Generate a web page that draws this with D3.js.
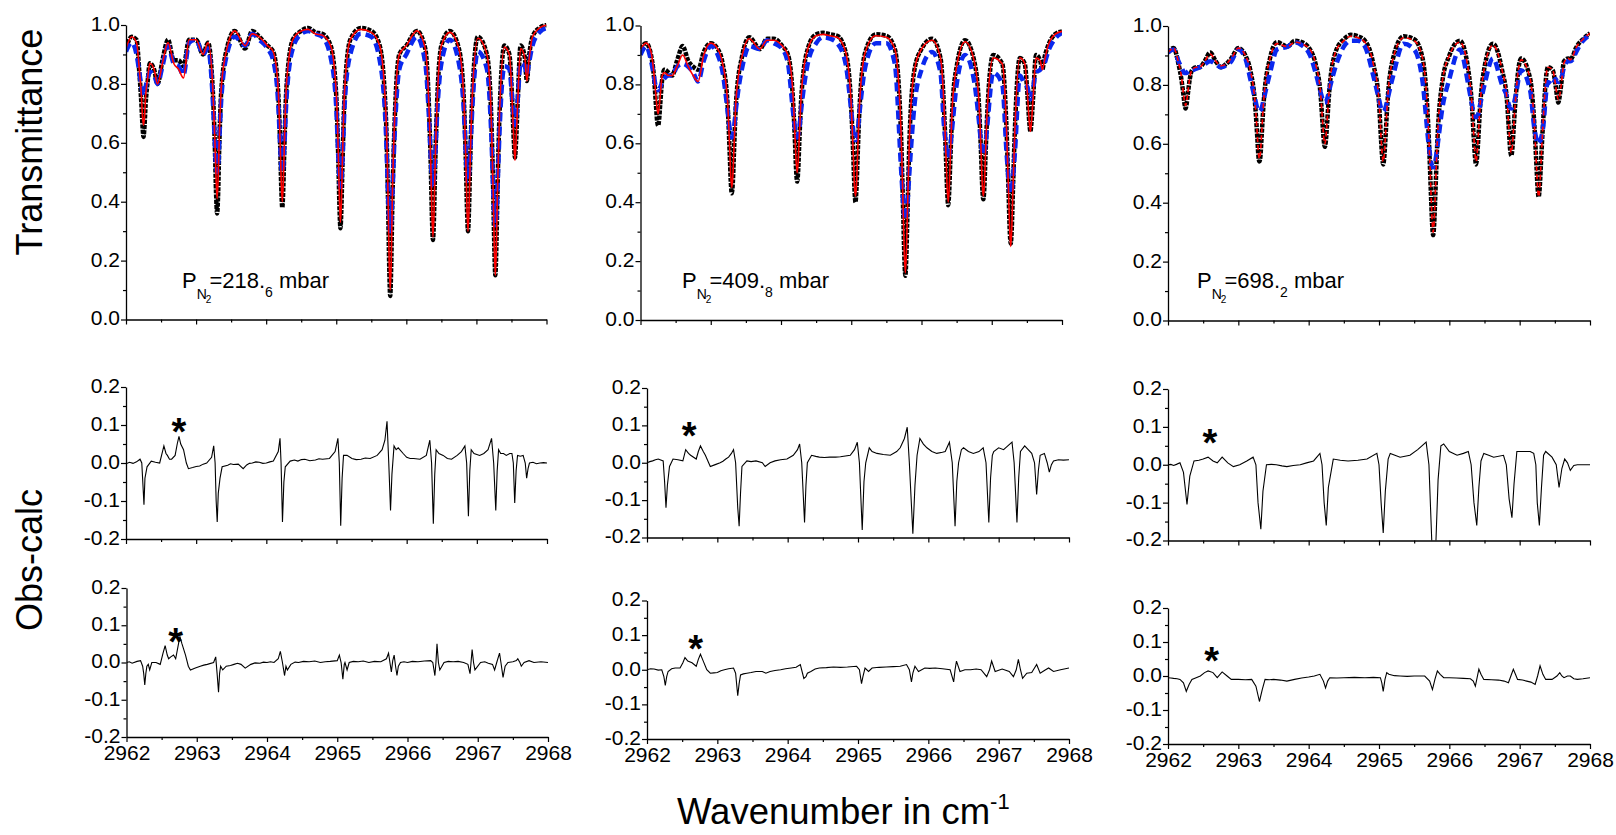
<!DOCTYPE html>
<html>
<head>
<meta charset="utf-8">
<script src="https://cdn.jsdelivr.net/npm/d3@7"></script>
<style>
  body { margin: 0; background: #fff; }
  svg { font-family: "Liberation Sans", Arial, sans-serif; }
  .axis path, .axis line { stroke: #000; }
  .axis path { stroke-width: 1.3; }
  .axis line { stroke-width: 1.2; }
  .axis text { font-size: 21px; fill: #000; }
</style>
</head>
<body>
<svg id="paper" width="1616" height="835"></svg>
<script>
// wavenumber grid shared by the transmittance traces (cm-1)
const wn = [
  2962.00, 2962.08, 2962.15, 2962.19, 2962.22, 2962.235, 2962.25, 2962.265, 2962.28, 2962.31, 2962.34,
  2962.40, 2962.45, 2962.52, 2962.60, 2962.68, 2962.75, 2962.82, 2962.90, 2963.00, 2963.10, 2963.17,
  2963.24, 2963.27, 2963.285, 2963.30, 2963.315, 2963.33, 2963.36, 2963.45, 2963.55, 2963.70, 2963.80,
  2963.90, 2964.02, 2964.10,
  2964.17, 2964.20, 2964.215, 2964.23, 2964.245, 2964.26, 2964.29, 2964.38, 2964.50, 2964.60, 2964.70,
  2964.80, 2964.92,
  2965.00, 2965.03, 2965.045, 2965.06, 2965.075, 2965.09, 2965.12, 2965.20, 2965.35, 2965.50, 2965.62,
  2965.71, 2965.74, 2965.755, 2965.77, 2965.785, 2965.80, 2965.83, 2965.90, 2966.00, 2966.15, 2966.27,
  2966.32, 2966.35, 2966.365, 2966.38, 2966.395, 2966.41, 2966.44, 2966.50, 2966.62, 2966.75,
  2966.82, 2966.85, 2966.865, 2966.88, 2966.895, 2966.91, 2966.94, 2967.02, 2967.15,
  2967.21, 2967.24, 2967.255, 2967.27, 2967.285, 2967.30, 2967.33, 2967.40, 2967.47,
  2967.51, 2967.535, 2967.55, 2967.565, 2967.59, 2967.63,
  2967.69, 2967.72, 2967.75, 2967.80, 2967.90, 2968.00
];

// P(N2) = 218.6 mbar
const trans218Obs = [
  .92, .96, .95, .84, .73, .66, .62, .66, .73, .81, .87, .85, .80, .88, .95, .88, .88, .86, .95, .95, .90, .94,
  .77, .57, .43, .36, .43, .58, .78, .93, .98, .92, .98, .96, .93, .91,
  .78, .59, .45, .38, .45, .59, .79, .95, .98, .99, .975, .97, .93,
  .76, .54, .39, .31, .39, .54, .77, .95, .99, .98, .93,
  .68, .39, .19, .08, .19, .39, .65, .90, .93, .98, .92,
  .74, .51, .35, .27, .35, .51, .74, .93, .98, .92,
  .75, .53, .38, .30, .38, .53, .75, .96, .90,
  .70, .43, .25, .15, .25, .43, .70, .93, .90,
  .745, .60, .55, .60, .745, .93,
  .89, .81, .89, .96, .99, 1.0
];
const trans218Fit = [
  .92, .96, .94, .85, .76, .69, .66, .69, .76, .82, .87, .85, .80, .87, .94, .87, .85, .82, .95, .95, .90, .94,
  .78, .60, .48, .41, .48, .61, .79, .93, .98, .93, .97, .96, .93, .91,
  .79, .60, .47, .40, .47, .60, .80, .95, .98, .985, .97, .965, .93,
  .77, .56, .41, .33, .41, .56, .78, .95, .985, .975, .93,
  .69, .41, .20, .10, .20, .41, .66, .90, .93, .98, .92,
  .74, .52, .36, .28, .36, .52, .74, .93, .975, .92,
  .75, .53, .38, .30, .38, .53, .75, .955, .90,
  .70, .43, .25, .15, .25, .43, .70, .925, .90,
  .74, .60, .54, .60, .74, .92,
  .89, .81, .88, .96, .99, 1.0
];
const trans218Alt = [
  .91, .94, .90, .84, .79, .77, .76, .77, .79, .82, .84, .83, .80, .86, .93, .87, .86, .83, .94, .95, .90, .92,
  .74, .59, .52, .50, .52, .60, .75, .91, .96, .93, .97, .95, .92, .88,
  .74, .59, .52, .50, .52, .59, .75, .92, .97, .98, .97, .96, .89,
  .72, .55, .48, .45, .48, .55, .73, .90, .97, .96, .88,
  .63, .42, .34, .30, .34, .42, .61, .85, .90, .96, .87,
  .70, .545, .48, .45, .48, .545, .70, .87, .95, .87,
  .71, .56, .50, .47, .50, .56, .71, .91, .85,
  .64, .44, .35, .32, .35, .44, .64, .86, .85,
  .75, .68, .66, .68, .75, .87,
  .86, .83, .87, .93, .975, .99
];

// P(N2) = 409.8 mbar
const trans409Obs = [
  .92, .94, .90, .83, .73, .68, .66, .68, .73, .82, .85, .84, .83, .88, .93, .88, .86, .85, .91, .94, .92, .87,
  .73, .565, .47, .43, .47, .565, .74, .90, .96, .92, .955, .955, .93, .90,
  .75, .60, .51, .47, .51, .60, .76, .92, .97, .975, .97, .965, .91,
  .72, .55, .45, .40, .45, .55, .73, .91, .97, .965, .92,
  .62, .36, .22, .15, .22, .36, .62, .85, .92, .955, .89,
  .72, .54, .44, .39, .44, .54, .72, .86, .95, .88,
  .72, .55, .45, .41, .45, .55, .72, .90, .87,
  .65, .43, .31, .26, .31, .43, .65, .89, .87,
  .76, .67, .64, .67, .76, .90,
  .88, .85, .89, .93, .97, .98
];
const trans409Fit = [
  .92, .94, .91, .84, .76, .72, .70, .72, .76, .83, .84, .83, .83, .86, .90, .86, .83, .81, .90, .94, .92, .87,
  .74, .58, .49, .45, .49, .58, .75, .90, .955, .92, .95, .95, .93, .90,
  .77, .62, .54, .50, .54, .62, .77, .92, .965, .97, .965, .96, .91,
  .73, .56, .46, .42, .46, .56, .74, .91, .965, .96, .92,
  .63, .37, .23, .16, .23, .37, .63, .85, .92, .95, .89,
  .73, .55, .45, .40, .45, .55, .73, .86, .945, .88,
  .73, .56, .46, .42, .46, .56, .73, .89, .87,
  .65, .43, .31, .25, .31, .43, .65, .89, .87,
  .76, .67, .64, .67, .76, .89,
  .88, .85, .88, .93, .97, .98
];
const trans409Alt = [
  .90, .93, .88, .83, .79, .785, .78, .785, .79, .81, .82, .83, .83, .86, .87, .86, .84, .81, .88, .93, .90, .84,
  .71, .65, .63, .62, .63, .65, .72, .86, .93, .92, .95, .94, .92, .87,
  .71, .65, .63, .62, .63, .65, .72, .87, .94, .96, .955, .94, .87,
  .71, .64, .62, .61, .62, .64, .71, .86, .94, .94, .87,
  .51, .395, .355, .34, .355, .395, .51, .73, .85, .91, .84,
  .66, .59, .56, .55, .56, .59, .66, .80, .90, .81,
  .67, .595, .57, .56, .57, .595, .67, .84, .80,
  .57, .475, .44, .43, .44, .475, .57, .83, .80,
  .79, .76, .75, .76, .79, .84,
  .85, .86, .87, .91, .955, .975
];

// P(N2) = 698.2 mbar
const trans698Obs = [
  .91, .925, .87, .82, .765, .735, .72, .735, .765, .82, .85, .86, .86, .88, .91, .88, .86, .87, .89, .925, .90, .85,
  .73, .62, .56, .54, .56, .62, .74, .89, .945, .93, .95, .945, .92, .87,
  .765, .66, .61, .59, .61, .66, .77, .91, .955, .97, .965, .95, .87,
  .74, .61, .555, .53, .555, .61, .74, .89, .965, .955, .89,
  .61, .42, .33, .29, .33, .42, .61, .81, .90, .95, .85,
  .735, .61, .555, .53, .555, .61, .735, .86, .94, .85,
  .745, .635, .58, .56, .58, .635, .745, .89, .82,
  .66, .52, .45, .42, .45, .52, .66, .86, .85,
  .80, .755, .74, .755, .80, .88,
  .89, .885, .895, .925, .955, .975
];
const trans698Fit = [
  .91, .925, .875, .83, .77, .745, .73, .745, .77, .825, .85, .86, .86, .88, .905, .88, .865, .87, .89, .925, .90, .85,
  .735, .63, .57, .55, .57, .63, .745, .89, .94, .93, .945, .94, .92, .87,
  .77, .67, .62, .60, .62, .67, .775, .91, .95, .965, .96, .945, .87,
  .745, .62, .565, .54, .565, .62, .745, .89, .96, .95, .89,
  .615, .43, .34, .30, .34, .43, .615, .81, .90, .945, .85,
  .74, .62, .565, .54, .565, .62, .74, .86, .935, .85,
  .75, .64, .59, .57, .59, .64, .75, .885, .82,
  .66, .52, .45, .42, .45, .52, .66, .86, .85,
  .80, .76, .75, .76, .80, .875,
  .89, .885, .895, .925, .955, .975
];
const trans698Alt = [
  .91, .92, .88, .86, .845, .84, .84, .84, .845, .85, .85, .855, .86, .87, .88, .87, .86, .865, .88, .92, .89, .82,
  .75, .72, .713, .71, .713, .72, .75, .84, .92, .93, .945, .935, .90, .84,
  .775, .75, .743, .74, .743, .75, .78, .86, .93, .95, .95, .93, .83,
  .75, .72, .713, .71, .713, .72, .75, .83, .94, .92, .81,
  .59, .54, .525, .52, .525, .54, .59, .72, .82, .92, .80,
  .735, .70, .693, .69, .693, .70, .735, .80, .89, .80,
  .76, .73, .723, .72, .723, .73, .76, .85, .78,
  .65, .615, .604, .60, .604, .615, .65, .81, .80,
  .82, .812, .81, .812, .82, .86,
  .88, .88, .885, .91, .95, .97
];

// residuals [wavenumber, obs-calc]
const resid218Mid = [
  [2962.00, -0.002], [2962.05, 0.002], [2962.10, -0.001], [2962.15, 0.003], [2962.20, 0.01], [2962.225, 0.0],
  [2962.245, -0.07], [2962.256, -0.11], [2962.27, -0.04], [2962.30, -0.01], [2962.36, 0.005], [2962.42, 0.002],
  [2962.48, 0.0], [2962.52, 0.03], [2962.54, 0.045], [2962.57, 0.025], [2962.59, 0.02], [2962.62, 0.01],
  [2962.65, 0.01], [2962.70, 0.02], [2962.73, 0.05], [2962.755, 0.07], [2962.78, 0.05], [2962.82, 0.035],
  [2962.86, 0.0], [2962.89, -0.015], [2962.95, -0.012], [2963.00, -0.009], [2963.05, -0.008], [2963.10, -0.003],
  [2963.15, 0.0], [2963.22, 0.015],
  [2963.25, 0.045], [2963.27, 0.0], [2963.285, -0.10], [2963.30, -0.155], [2963.315, -0.08], [2963.34, -0.04],
  [2963.37, -0.01], [2963.45, -0.006], [2963.49, -0.002], [2963.53, -0.004], [2963.60, -0.003], [2963.67, -0.015],
  [2963.72, -0.005], [2963.76, -0.001], [2963.80, 0.0], [2963.85, 0.003], [2963.90, 0.002], [2963.95, -0.001],
  [2964.00, 0.0], [2964.05, 0.003], [2964.10, 0.005], [2964.17, 0.03], [2964.195, 0.065],
  [2964.21, 0.0], [2964.23, -0.155], [2964.25, -0.05], [2964.27, -0.01], [2964.34, 0.005], [2964.40, 0.008],
  [2964.45, 0.005], [2964.50, 0.009], [2964.55, 0.01], [2964.62, 0.006], [2964.70, 0.008], [2964.75, 0.011],
  [2964.80, 0.01], [2964.90, 0.012], [2964.98, 0.03], [2965.02, 0.065],
  [2965.04, 0.0], [2965.06, -0.165], [2965.08, -0.04], [2965.10, 0.02], [2965.15, 0.02], [2965.22, 0.012],
  [2965.28, 0.009], [2965.35, 0.01], [2965.41, 0.013], [2965.48, 0.012], [2965.58, 0.02], [2965.65, 0.035],
  [2965.69, 0.06], [2965.72, 0.11],
  [2965.745, 0.0], [2965.77, -0.125], [2965.79, -0.03], [2965.82, 0.045], [2965.85, 0.035], [2965.88, 0.04],
  [2965.95, 0.025], [2966.00, 0.015], [2966.05, 0.012], [2966.10, 0.012], [2966.19, 0.01], [2966.28, 0.02],
  [2966.33, 0.06],
  [2966.355, 0.0], [2966.38, -0.16], [2966.40, -0.03], [2966.42, 0.035], [2966.46, 0.025], [2966.52, 0.02],
  [2966.58, 0.012], [2966.64, 0.01], [2966.72, 0.02], [2966.78, 0.03], [2966.83, 0.045], [2966.855, 0.0],
  [2966.88, -0.14], [2966.90, -0.02], [2966.92, 0.035], [2966.96, 0.025], [2967.04, 0.02], [2967.10, 0.025],
  [2967.16, 0.035], [2967.21, 0.065], [2967.24, 0.0], [2967.27, -0.125], [2967.29, -0.02], [2967.31, 0.035],
  [2967.34, 0.025], [2967.38, 0.025], [2967.42, 0.02], [2967.47, 0.025], [2967.50, 0.025], [2967.52, 0.0],
  [2967.54, -0.105], [2967.56, -0.02], [2967.58, 0.02], [2967.62, 0.018], [2967.66, 0.02], [2967.69, 0.0],
  [2967.71, -0.04], [2967.73, -0.015], [2967.75, 0.0], [2967.80, 0.002], [2967.85, -0.002], [2967.90, 0.0],
  [2967.95, 0.001], [2968.00, 0.0]
];
const resid218Bot = [
  [2962.00, 0.0], [2962.04, 0.002], [2962.08, -0.002], [2962.15, 0.003], [2962.20, 0.005], [2962.23, -0.01],
  [2962.245, -0.03],
  [2962.26, -0.06], [2962.275, -0.03], [2962.29, -0.01], [2962.31, -0.005], [2962.33, -0.02], [2962.36, 0.0],
  [2962.42, 0.0], [2962.48, -0.005], [2962.52, 0.025], [2962.55, 0.045], [2962.58, 0.02], [2962.60, 0.01],
  [2962.63, 0.015], [2962.67, 0.02], [2962.70, 0.01], [2962.73, 0.04], [2962.76, 0.07], [2962.79, 0.05],
  [2962.84, 0.02], [2962.88, -0.01], [2962.91, -0.02], [2962.98, -0.015], [2963.05, -0.01], [2963.10, -0.007],
  [2963.15, -0.005],
  [2963.24, 0.0], [2963.27, 0.015], [2963.29, -0.03], [2963.31, -0.08], [2963.325, -0.03], [2963.34, -0.01],
  [2963.37, -0.02], [2963.42, -0.01], [2963.48, -0.008], [2963.53, -0.005], [2963.58, -0.002], [2963.63, -0.005],
  [2963.69, -0.015], [2963.77, -0.005], [2963.83, -0.001],
  [2963.90, -0.002], [2963.95, 0.001], [2964.00, 0.0], [2964.05, 0.002], [2964.10, 0.0], [2964.16, 0.01],
  [2964.19, 0.03], [2964.22, 0.0],
  [2964.25, -0.035], [2964.27, -0.01], [2964.29, -0.02], [2964.34, -0.005], [2964.40, 0.001], [2964.45, 0.0],
  [2964.52, 0.003], [2964.60, 0.002], [2964.68, 0.004],
  [2964.76, 0.0], [2964.83, 0.002], [2964.90, 0.003], [2965.00, 0.005], [2965.03, 0.02], [2965.055, 0.0],
  [2965.08, -0.045],
  [2965.10, -0.005], [2965.11, 0.0], [2965.14, -0.02], [2965.17, 0.0], [2965.23, 0.003], [2965.30, 0.002],
  [2965.37, 0.004], [2965.45, 0.0], [2965.53, 0.003],
  [2965.62, 0.002], [2965.70, 0.01], [2965.73, 0.025], [2965.75, 0.0], [2965.77, -0.025], [2965.79, 0.005],
  [2965.81, 0.02], [2965.83, -0.01], [2965.85, -0.035], [2965.87, -0.01], [2965.90, 0.0], [2965.95, 0.002],
  [2966.00, 0.0], [2966.07, 0.003],
  [2966.15, 0.002], [2966.24, 0.004], [2966.33, 0.005], [2966.36, 0.0], [2966.39, -0.035], [2966.405, 0.0],
  [2966.42, 0.05],
  [2966.44, 0.0], [2966.46, -0.02], [2966.52, 0.0], [2966.58, 0.003], [2966.65, 0.002], [2966.72, 0.003],
  [2966.80, 0.0], [2966.86, -0.005],
  [2966.89, -0.03], [2966.92, 0.035], [2966.94, 0.0], [2966.96, -0.02], [2967.04, 0.0], [2967.10, 0.002],
  [2967.15, -0.002],
  [2967.21, -0.005], [2967.24, -0.02], [2967.27, 0.0], [2967.31, 0.025], [2967.33, 0.0], [2967.36, -0.04],
  [2967.39, -0.01], [2967.43, 0.0], [2967.50, 0.002], [2967.55, 0.005], [2967.57, 0.01], [2967.60, 0.0],
  [2967.62, -0.01], [2967.66, 0.0], [2967.73, 0.005], [2967.80, 0.0], [2967.90, 0.002], [2968.00, 0.0]
];
const resid409Mid = [
  [2962.00, 0.0], [2962.04, 0.003], [2962.08, 0.005], [2962.12, 0.008], [2962.16, 0.01], [2962.23, 0.005],
  [2962.25, -0.05], [2962.27, -0.12],
  [2962.29, -0.06], [2962.32, -0.01], [2962.37, 0.01], [2962.44, 0.008], [2962.51, 0.005], [2962.55, 0.035],
  [2962.59, 0.025], [2962.62, 0.02], [2962.70, 0.01], [2962.73, 0.03], [2962.76, 0.045], [2962.80, 0.03],
  [2962.83, 0.02], [2962.90, -0.01], [2962.97, -0.005], [2963.04, 0.0], [2963.08, 0.004], [2963.12, 0.01],
  [2963.16, 0.015], [2963.20, 0.025],
  [2963.23, 0.035], [2963.26, 0.0], [2963.29, -0.12], [2963.31, -0.17], [2963.33, -0.08], [2963.35, -0.01],
  [2963.42, 0.005], [2963.48, 0.003], [2963.55, 0.005], [2963.64, 0.0], [2963.68, -0.01], [2963.75, 0.0],
  [2963.82, 0.005], [2963.90, 0.008],
  [2963.99, 0.01], [2964.08, 0.02], [2964.14, 0.035], [2964.17, 0.05], [2964.20, 0.0], [2964.24, -0.16],
  [2964.26, -0.06], [2964.28, 0.0], [2964.34, 0.02], [2964.40, 0.017], [2964.45, 0.015], [2964.52, 0.014],
  [2964.60, 0.015], [2964.68, 0.015], [2964.75, 0.016],
  [2964.89, 0.02], [2964.95, 0.035], [2964.99, 0.055], [2965.02, 0.0], [2965.06, -0.18], [2965.085, -0.05],
  [2965.11, 0.0], [2965.16, 0.04], [2965.20, 0.03], [2965.27, 0.025], [2965.36, 0.022], [2965.46, 0.02],
  [2965.55, 0.03], [2965.60, 0.04], [2965.66, 0.065], [2965.70, 0.095], [2965.73, 0.0], [2965.78, -0.19],
  [2965.81, -0.06], [2965.84, 0.02], [2965.88, 0.065], [2965.93, 0.05], [2965.98, 0.04], [2966.05, 0.03],
  [2966.12, 0.025], [2966.20, 0.028], [2966.24, 0.03], [2966.30, 0.055], [2966.34, 0.0], [2966.38, -0.17],
  [2966.405, -0.05], [2966.43, 0.0], [2966.47, 0.035], [2966.50, 0.04], [2966.57, 0.03], [2966.64, 0.025],
  [2966.72, 0.03], [2966.78, 0.04], [2966.82, 0.0], [2966.86, -0.16], [2966.885, -0.04], [2966.91, 0.02],
  [2966.93, 0.03], [2967.00, 0.04], [2967.07, 0.035], [2967.13, 0.045], [2967.19, 0.055], [2967.22, 0.0],
  [2967.26, -0.16], [2967.285, -0.04], [2967.31, 0.03], [2967.37, 0.045], [2967.42, 0.035], [2967.47, 0.025],
  [2967.51, 0.0], [2967.54, -0.085], [2967.565, -0.02], [2967.59, 0.02], [2967.65, 0.025], [2967.69, 0.0],
  [2967.72, -0.025], [2967.75, -0.005], [2967.78, 0.005], [2967.85, 0.008], [2967.92, 0.007], [2968.00, 0.008]
];
const resid409Bot = [
  [2962.00, 0.0], [2962.05, 0.003], [2962.10, 0.002], [2962.16, -0.001], [2962.21, 0.0], [2962.24, -0.02],
  [2962.26, -0.045], [2962.28, -0.02],
  [2962.30, -0.005], [2962.35, 0.003], [2962.40, 0.005], [2962.47, 0.005], [2962.51, 0.02], [2962.54, 0.035],
  [2962.58, 0.025],
  [2962.64, 0.02], [2962.70, 0.01], [2962.73, 0.03], [2962.76, 0.045], [2962.80, 0.025], [2962.85, 0.0],
  [2962.90, -0.01], [2962.95, -0.009], [2963.00, -0.008], [2963.05, -0.003], [2963.10, 0.0], [2963.16, 0.003],
  [2963.23, 0.005], [2963.26, -0.01], [2963.29, -0.075],
  [2963.31, -0.04], [2963.33, -0.015], [2963.37, -0.012], [2963.42, -0.01], [2963.48, -0.008], [2963.55, -0.005],
  [2963.64, -0.005], [2963.69, -0.01],
  [2963.75, -0.005], [2963.82, -0.002], [2963.90, 0.0], [2963.97, 0.003], [2964.05, 0.005], [2964.12, 0.007],
  [2964.18, 0.015], [2964.23, -0.025], [2964.26, -0.02],
  [2964.28, -0.01], [2964.33, -0.005], [2964.39, 0.002], [2964.45, 0.005], [2964.55, 0.006], [2964.65, 0.008],
  [2964.75, 0.007], [2964.85, 0.008], [2964.98, 0.01],
  [2965.02, 0.0], [2965.05, -0.04], [2965.07, -0.02], [2965.10, 0.005], [2965.15, -0.005], [2965.20, 0.005],
  [2965.30, 0.007], [2965.40, 0.008], [2965.50, 0.009], [2965.60, 0.01], [2965.69, 0.015], [2965.73, 0.0],
  [2965.76, -0.035], [2965.78, -0.01],
  [2965.81, 0.01], [2965.86, -0.005], [2965.95, 0.005], [2966.02, 0.004], [2966.10, 0.005], [2966.20, 0.003],
  [2966.31, 0.0], [2966.36, -0.035],
  [2966.38, 0.0], [2966.40, 0.025], [2966.45, -0.005], [2966.52, 0.0], [2966.60, 0.0], [2966.68, 0.002],
  [2966.75, 0.0], [2966.83, -0.02],
  [2966.87, 0.0], [2966.90, 0.025], [2966.95, -0.005], [2967.05, 0.002], [2967.15, -0.005], [2967.21, -0.02],
  [2967.25, 0.0], [2967.28, 0.03], [2967.31, 0.0], [2967.34, -0.025], [2967.40, -0.01], [2967.47, -0.008],
  [2967.54, 0.015], [2967.59, -0.01], [2967.65, -0.002], [2967.71, 0.005], [2967.78, -0.005], [2967.88, 0.0],
  [2968.00, 0.005]
];
const resid698Mid = [
  [2962.00, 0.0], [2962.04, 0.001], [2962.08, -0.002], [2962.12, 0.001], [2962.17, 0.005], [2962.22, -0.02],
  [2962.27, -0.105], [2962.31, -0.03],
  [2962.37, 0.01], [2962.44, 0.012], [2962.50, 0.015], [2962.57, 0.02], [2962.64, 0.01], [2962.70, 0.005],
  [2962.77, 0.02], [2962.85, 0.005], [2962.93, -0.005], [2963.02, 0.0], [2963.12, 0.01], [2963.21, 0.02],
  [2963.25, 0.0], [2963.28, -0.1], [2963.32, -0.17], [2963.35, -0.07], [2963.40, 0.0], [2963.47, 0.001],
  [2963.54, 0.0],
  [2963.62, -0.003], [2963.69, -0.005], [2963.78, -0.002], [2963.88, 0.0], [2963.97, 0.005], [2964.07, 0.01],
  [2964.16, 0.03], [2964.19, 0.0],
  [2964.22, -0.1], [2964.25, -0.16], [2964.28, -0.06], [2964.35, 0.015], [2964.45, 0.012], [2964.56, 0.01],
  [2964.70, 0.012], [2964.83, 0.015], [2964.97, 0.03], [2965.00, 0.0], [2965.03, -0.1], [2965.06, -0.18],
  [2965.09, -0.07], [2965.13, 0.015], [2965.16, 0.03], [2965.30, 0.02], [2965.44, 0.025], [2965.55, 0.04],
  [2965.61, 0.05], [2965.67, 0.06], [2965.71, 0.0], [2965.75, -0.2], [2965.78, -0.23], [2965.81, -0.2],
  [2965.84, -0.04], [2965.88, 0.05], [2965.92, 0.055], [2966.00, 0.035], [2966.11, 0.025], [2966.20, 0.03],
  [2966.27, 0.035], [2966.31, 0.0], [2966.35, -0.1], [2966.39, -0.16], [2966.42, -0.06], [2966.45, 0.01],
  [2966.49, 0.03], [2966.56, 0.025], [2966.63, 0.02], [2966.77, 0.025], [2966.81, 0.0], [2966.85, -0.09],
  [2966.89, -0.14], [2966.92, -0.05], [2966.96, 0.035], [2967.05, 0.035], [2967.15, 0.035], [2967.20, 0.03],
  [2967.23, 0.0], [2967.25, -0.1], [2967.28, -0.16], [2967.31, -0.06], [2967.34, 0.025], [2967.37, 0.035],
  [2967.46, 0.02], [2967.52, 0.0], [2967.56, -0.06], [2967.60, -0.01], [2967.64, 0.015], [2967.68, 0.005],
  [2967.72, -0.015], [2967.77, -0.002], [2967.82, 0.0], [2967.90, 0.0], [2968.00, 0.0]
];
const resid698Bot = [
  [2962.00, -0.005], [2962.04, -0.006], [2962.08, -0.007], [2962.13, -0.008], [2962.17, -0.01], [2962.22, -0.02],
  [2962.26, -0.045], [2962.30, -0.025],
  [2962.34, -0.01], [2962.40, -0.005], [2962.46, 0.0], [2962.52, 0.01], [2962.57, 0.015], [2962.64, 0.01],
  [2962.70, -0.005], [2962.77, 0.012], [2962.84, 0.0], [2962.90, -0.01], [2963.00, -0.01], [2963.10, -0.011],
  [2963.19, -0.01],
  [2963.25, -0.03], [2963.30, -0.075], [2963.34, -0.04], [2963.38, -0.01], [2963.44, -0.011], [2963.50, -0.01],
  [2963.60, -0.012],
  [2963.69, -0.015], [2963.80, -0.01], [2963.90, -0.006], [2964.00, -0.003], [2964.08, 0.0], [2964.16, 0.005],
  [2964.21, -0.015], [2964.24, -0.035],
  [2964.27, -0.015], [2964.30, -0.005], [2964.40, -0.006], [2964.50, -0.005], [2964.65, -0.004], [2964.80, -0.005],
  [2964.92, -0.004], [2965.02, -0.005], [2965.04, -0.02],
  [2965.06, -0.045], [2965.085, -0.01], [2965.11, 0.01], [2965.14, 0.005], [2965.22, 0.001], [2965.30, 0.0],
  [2965.40, -0.001], [2965.50, 0.0],
  [2965.65, 0.0], [2965.72, -0.015], [2965.76, -0.04], [2965.795, -0.01], [2965.83, 0.015], [2965.87, 0.005],
  [2965.92, -0.005], [2966.00, -0.005], [2966.10, -0.006], [2966.20, -0.007], [2966.30, -0.008], [2966.34, -0.015],
  [2966.37, -0.03], [2966.395, -0.005],
  [2966.42, 0.02], [2966.45, 0.005], [2966.49, -0.01], [2966.60, -0.011], [2966.70, -0.012], [2966.78, -0.015],
  [2966.84, -0.02], [2966.875, 0.0],
  [2966.91, 0.02], [2966.94, 0.005], [2966.97, -0.01], [2967.04, -0.012], [2967.10, -0.015], [2967.16, -0.018],
  [2967.22, -0.025], [2967.255, 0.0],
  [2967.29, 0.03], [2967.33, 0.005], [2967.37, -0.01], [2967.46, -0.01], [2967.53, 0.0], [2967.57, 0.01],
  [2967.60, 0.0], [2967.63, -0.005], [2967.68, 0.0], [2967.72, 0.0], [2967.77, -0.008], [2967.82, -0.01],
  [2967.90, -0.008], [2968.00, -0.005]
];

// asterisk marks [wavenumber, obs-calc] : mid and bottom of each column
const starMarks = [
  [[2962.755, 0.105], [2962.70, 0.079]],
  [[2962.60, 0.096], [2962.69, 0.087]],
  [[2962.595, 0.081], [2962.62, 0.0715]]
];

const pressureMain = ["218.", "409.", "698."];
const pressureSub = ["6", "8", "2"];

const wnTicks = [2962, 2963, 2964, 2965, 2966, 2967, 2968];
const wnMinor = [2962.5, 2963.5, 2964.5, 2965.5, 2966.5, 2967.5];
const transTicks = [0, 0.2, 0.4, 0.6, 0.8, 1.0];
const transMinor = [0.1, 0.3, 0.5, 0.7, 0.9];
const residTicks = [-0.2, -0.1, 0, 0.1, 0.2];
const residMinor = [-0.15, -0.05, 0.05, 0.15];

// panel boxes (pixels)
const layout = [
  { top: { x0: 126, x1: 546.5, y0: 25, y1: 319.5 }, mid: { x0: 126, x1: 547, y0: 387, y1: 539 },
    bot: { x0: 126.5, x1: 548, y0: 588, y1: 737 }, labelX: 182 },
  { top: { x0: 640.5, x1: 1062, y0: 25.5, y1: 320 }, mid: { x0: 647, x1: 1069, y0: 388, y1: 537.5 },
    bot: { x0: 647, x1: 1069, y0: 600.5, y1: 739 }, labelX: 682 },
  { top: { x0: 1168, x1: 1590, y0: 26, y1: 320.5 }, mid: { x0: 1168, x1: 1590, y0: 389, y1: 540.5 },
    bot: { x0: 1168, x1: 1590, y0: 608, y1: 744 }, labelX: 1197 }
];

const columns = [
  { obs: trans218Obs, fit: trans218Fit, alt: trans218Alt, mid: resid218Mid, bot: resid218Bot, fitDash: null },
  { obs: trans409Obs, fit: trans409Fit, alt: trans409Alt, mid: resid409Mid, bot: resid409Bot, fitDash: null },
  { obs: trans698Obs, fit: trans698Fit, alt: trans698Alt, mid: resid698Mid, bot: resid698Bot, fitDash: "5 3" }
];

const svg = d3.select("#paper");
const fmt = (d) => d.toFixed(1);
let clipCount = 0;

function panel(box, yDomain, yMajor, yMinor, xLabels) {
  const x = d3.scaleLinear().domain([2962, 2968]).range([box.x0, box.x1]);
  const y = d3.scaleLinear().domain(yDomain).range([box.y1, box.y0]);
  const g = svg.append("g");
  const clipId = "clip" + (clipCount++);
  g.append("clipPath").attr("id", clipId)
    .append("rect")
    .attr("x", box.x0).attr("y", box.y0 - 2)
    .attr("width", box.x1 - box.x0).attr("height", box.y1 - box.y0 + 2);
  const plot = g.append("g").attr("clip-path", `url(#${clipId})`);
  return { x, y, g, plot, box, yMajor, yMinor, xLabels };
}

function axes(p) {
  const { x, y, g, box } = p;
  const clean = (sel) => sel.attr("font-size", null).attr("font-family", null);

  g.append("g").attr("class", "axis")
    .attr("transform", `translate(0,${box.y1})`)
    .call(d3.axisBottom(x).tickValues(wnMinor).tickSize(3).tickSizeOuter(0).tickFormat(""))
    .call(clean)
    .call((s) => s.select(".domain").remove());
  g.append("g").attr("class", "axis")
    .attr("transform", `translate(0,${box.y1})`)
    .call(d3.axisBottom(x).tickValues(wnTicks).tickSize(5).tickSizeOuter(0).tickPadding(3)
      .tickFormat(p.xLabels ? d3.format("d") : ""))
    .call(clean);

  g.append("g").attr("class", "axis")
    .attr("transform", `translate(${box.x0},0)`)
    .call(d3.axisLeft(y).tickValues(p.yMinor).tickSize(3).tickSizeOuter(0).tickFormat(""))
    .call(clean)
    .call((s) => s.select(".domain").remove());
  g.append("g").attr("class", "axis")
    .attr("transform", `translate(${box.x0},0)`)
    .call(d3.axisLeft(y).tickValues(p.yMajor).tickSize(5).tickSizeOuter(0).tickPadding(1).tickFormat(fmt))
    .call(clean)
    .call((s) => s.selectAll("text").attr("dy", "0.26em"));
}

columns.forEach((col, ci) => {
  const lay = layout[ci];

  // transmittance panel
  const top = panel(lay.top, [0, 1], transTicks, transMinor, false);
  const line = d3.line()
    .x((d, i) => top.x(wn[i]))
    .y((d) => top.y(d))
    .curve(d3.curveMonotoneX);

  top.plot.append("path").datum(col.obs)
    .attr("d", line).attr("fill", "none")
    .attr("stroke", "#000").attr("stroke-width", 4.5)
    .attr("stroke-dasharray", "4 1.2");
  top.plot.append("path").datum(col.alt)
    .attr("d", line).attr("fill", "none")
    .attr("stroke", "#0a28ee").attr("stroke-width", 4.5)
    .attr("stroke-dasharray", "9 5");
  top.plot.append("path").datum(col.fit)
    .attr("d", line).attr("fill", "none")
    .attr("stroke", "#ff0000").attr("stroke-width", 1.6)
    .attr("stroke-dasharray", col.fitDash);
  axes(top);

  // pressure label
  const t = top.g.append("text").attr("x", lay.labelX).attr("y", 288)
    .attr("fill", "#000").style("font-size", "22px");
  t.append("tspan").text("P");
  t.append("tspan").attr("y", 299).style("font-size", "14px").text("N");
  t.append("tspan").attr("y", 303).attr("dx", -1).style("font-size", "10px").text("2");
  t.append("tspan").attr("y", 288).attr("dx", -2).text("=" + pressureMain[ci]);
  t.append("tspan").attr("y", 297).style("font-size", "14px").text(pressureSub[ci]);
  t.append("tspan").attr("y", 288).text(" mbar");

  // residual panels
  [["mid", col.mid, false], ["bot", col.bot, true]].forEach(([key, data, labels], ri) => {
    const p = panel(lay[key], [-0.2, 0.2], residTicks, residMinor, labels);
    const rline = d3.line()
      .x((d) => p.x(d[0]))
      .y((d) => p.y(d[1]));
    p.plot.append("path").datum(data)
      .attr("d", rline).attr("fill", "none")
      .attr("stroke", "#000").attr("stroke-width", 1.1);
    axes(p);

    const star = starMarks[ci][ri];
    p.g.append("text")
      .attr("x", p.x(star[0]))
      .attr("y", p.y(star[1]) + 22)
      .attr("text-anchor", "middle")
      .style("font-size", "38px").style("font-weight", "bold")
      .text("*");
  });
});

// axis titles
svg.append("text")
  .attr("transform", "translate(42,142) rotate(-90)")
  .attr("text-anchor", "middle")
  .style("font-size", "36px")
  .text("Transmittance");
svg.append("text")
  .attr("transform", "translate(42,560) rotate(-90)")
  .attr("text-anchor", "middle")
  .style("font-size", "36px")
  .text("Obs-calc");
const xt = svg.append("text")
  .attr("x", 677).attr("y", 824)
  .style("font-size", "36.5px");
xt.append("tspan").text("Wavenumber in cm");
xt.append("tspan").attr("dy", -15).style("font-size", "22px").text("-1");
</script>
</body>
</html>
